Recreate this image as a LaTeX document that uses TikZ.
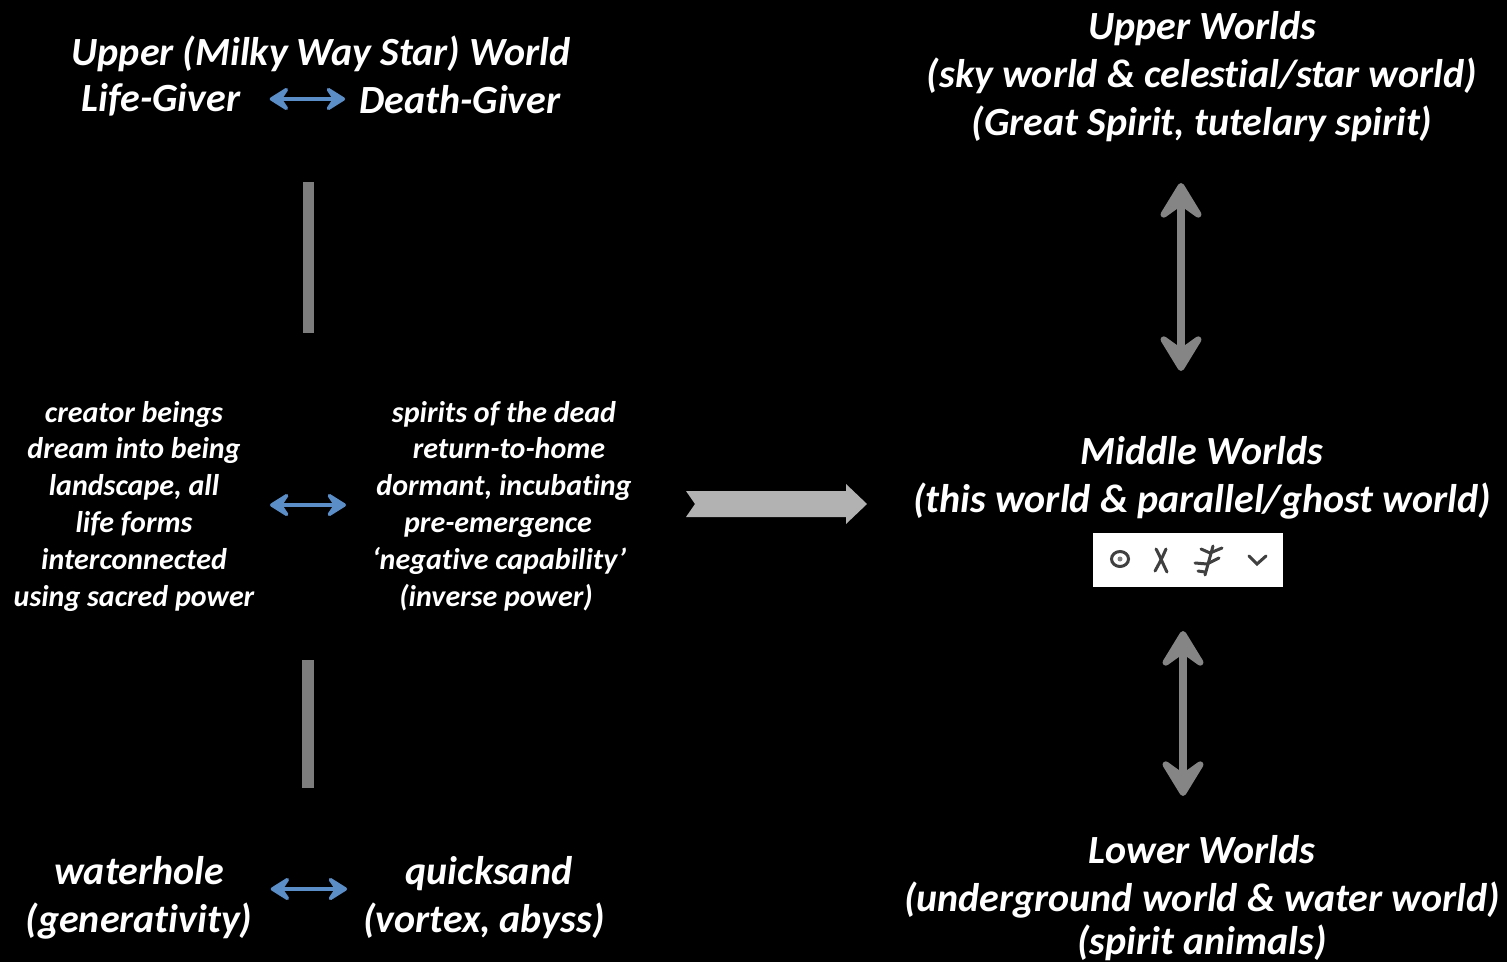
\documentclass[tikz,border=0pt]{standalone}
\usepackage{fontspec}
\setmainfont[Ligatures=CommonOff]{Carlito}
\usetikzlibrary{arrows.meta}
\definecolor{arrowgrey}{RGB}{133,133,133}
\definecolor{bargrey}{RGB}{125,125,125}
\tikzset{
    bigtext/.style={text=white,inner sep=0pt,align=center,font=\fontsize{20}{24}\selectfont\bfseries\itshape},
    smalltext/.style={text=white,inner sep=0pt,align=center,font=\fontsize{15}{18.4}\selectfont\bfseries\itshape},
    bluearrow/.style={draw={rgb,255:red,91;green,141;blue,198},line width=2pt,{Stealth[length=12pt,width=15pt,inset=5pt,round]}-{Stealth[length=12pt,width=15pt,inset=5pt,round]}},
    greyarrow/.style={draw=arrowgrey,line width=4.4pt,{Stealth[length=23pt,width=28pt,inset=10pt,round]}-{Stealth[length=23pt,width=28pt,inset=10pt,round]}},
    greybar/.style={draw=bargrey,line width=5.6pt},
    glyph/.style={draw=black!75,line width=1.5pt,line cap=round}
}
\begin{document}
\begin{tikzpicture}[x=0.5pt,y=-0.5pt]
    \fill[black] (0,0) rectangle (1507,962);
    \useasboundingbox (0,0) rectangle (1507,962);
    \node[bigtext] (upperhead) at (321,54) {Upper (Milky Way Star) World};
    \node[bigtext] (lifegiver) at (161,100) {Life-Giver};
    \node[bigtext] (deathgiver) at (460,100) {Death-Giver};
    \node[smalltext] (creator) at (134,506) {creator beings\\dream into being\\landscape, all\\life forms\\interconnected\\using sacred power};
    \node[smalltext] (spirits) at (504,506) {spirits of the dead\\\hspace*{5pt}return-to-home\\dormant, incubating\\pre-emergence\hspace*{6pt}\mbox{}\\‘negative capability’\hspace*{5pt}\mbox{}\\(inverse power)\hspace*{8pt}\mbox{}};
    \node[bigtext] (waterhole) at (139,898) {waterhole\\(generativity)};
    \node[bigtext] (quicksand) at (484,898) {\hspace*{5pt}quicksand\\(vortex, abyss)};
    \node[bigtext] (upperworlds) at (1202,77) {Upper Worlds\\(sky world \& celestial/star world)\\(Great Spirit, tutelary spirit)};
    \node[bigtext] (middleworlds) at (1202,478) {Middle Worlds\\(this world \& parallel/ghost world)};
    \node[bigtext] (lowerworlds) at (1202,898) {Lower Worlds\\(underground world \& water world)\\[-2.5pt](spirit animals)};
    \node[fill=white,minimum width=95pt,minimum height=27pt,inner sep=0pt] (signs) at (1188,560) {};
    \draw[bluearrow] ([xshift=14.5pt]lifegiver.east |- 0,99) -- ([xshift=-7pt]deathgiver.west |- 0,99);
    \draw[bluearrow] (270,505) coordinate (blueleft) -- (346,505) coordinate (blueright);
    \draw[bluearrow] ([xshift=9pt]waterhole.east |- 0,889) -- ([xshift=-8pt]quicksand.west |- 0,889);
    \coordinate (barone) at (308.5,182);
    \coordinate (bartwo) at (308.5,333);
    \coordinate (barthree) at (308,660);
    \coordinate (barfour) at (308,788);
    \draw[greybar] (barone) -- (bartwo);
    \draw[greybar] (barthree) -- (barfour);
    \draw[greyarrow] (1181,183) coordinate (upa) -- (1181,371) coordinate (upb);
    \draw[greyarrow] (1183,631) coordinate (lowa) -- (1183,796) coordinate (lowb);
    \fill[black!30] (686,491) -- (846,491) -- (846,484) -- (867,504) -- (846,524) -- (846,517) -- (686,517) -- (695,504) -- cycle;
    \draw[glyph] (1120,559) circle (8.5 and 7.5);
    \fill[black!50] (1120,559) circle (2.5);
    \draw[glyph] (1156,549) .. controls (1160,556) and (1162,562) .. (1167,572);
    \draw[glyph] (1166,549) .. controls (1163,556) and (1160,562) .. (1155,571);
    \draw[glyph] (1213,546) -- (1205,575);
    \draw[glyph] (1201,549) -- (1210,553) -- (1222,548);
    \draw[glyph] (1195,563) -- (1207,564) -- (1219,558);
    \draw[glyph] (1198,571) -- (1205,572);
    \draw[glyph] (1249,556) -- (1257,564) -- (1266,556);
\end{tikzpicture}
\end{document}
